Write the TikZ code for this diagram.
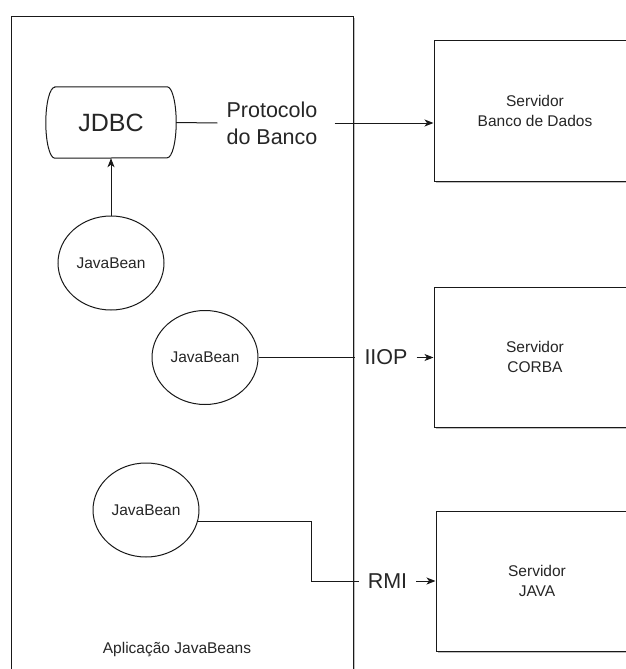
\documentclass[tikz,border=0pt]{standalone}
\usepackage{fontspec}
\setmainfont{Liberation Sans}
\usetikzlibrary{arrows.meta,shapes.geometric,shadows}

\begin{document}
\begin{tikzpicture}[x=1pt,y=-1pt,
  ln/.style={draw=black!90, line width=1pt},
  tip/.style={-{Stealth[length=9pt,width=7pt,inset=2.5pt]}},
  softshadow/.style={drop shadow={shadow xshift=1.5pt, shadow yshift=-1.5pt, fill=black, opacity=0.25}},
  bean/.style={ellipse, ln, fill=white, minimum width=106pt, minimum height=94pt,
    inner sep=0pt, font=\fontsize{15.5}{19}\selectfont, text=black!85},
  server/.style={rectangle, ln, fill=white, softshadow, minimum width=202pt,
    minimum height=140pt, align=center, font=\fontsize{15.5}{19.5}\selectfont, text=black!85},
  proto/.style={inner ysep=0pt, inner xsep=9pt, align=center,
    font=\fontsize{21.5}{27}\selectfont, text=black!85}
]
\useasboundingbox (0,0) rectangle (626,669);

% application container (runs off the bottom of the page)
\draw[ln, fill=white, softshadow] (11,17) rectangle (353,700);
\node[font=\fontsize{15.5}{19}\selectfont, text=black!85] (app) at (177,650) {Aplicação JavaBeans};

% JDBC driver box with bulging sides
\node[minimum width=130pt, minimum height=71pt, inner sep=0pt,
      font=\fontsize{25}{30}\selectfont, text=black!85] (jdbc) at (111,122.5) {JDBC};
\draw[ln] ([xshift=9pt]jdbc.north west) -- ([xshift=-9pt]jdbc.north east)
  arc[start angle=90, end angle=-90, x radius=9pt, y radius=35.5pt]
  -- ([xshift=9pt]jdbc.south west)
  arc[start angle=270, end angle=90, x radius=9pt, y radius=35.5pt] -- cycle;

% beans
\node[bean] (jb1) at (111,263) {JavaBean};
\node[bean] (jb2) at (205,357.5) {JavaBean};
\node[bean] (jb3) at (146,510) {JavaBean};

% servers
\node[server] (db) at (535,111) {Servidor\\Banco de Dados};
\node[server] (corba) at (535,357) {Servidor\\CORBA};
\node[server] (java) at (537,581) {Servidor\\JAVA};

% protocol labels
\node[proto] (proto) at (272,123) {Protocolo\\do Banco};
\node[proto] (iiop) at (386,357.5) {IIOP};
\node[proto] (rmi) at (387.5,581) {RMI};

% connectors
\draw[ln, tip] (jb1.north) -- (jdbc.south);
\draw[ln] (jdbc.east) -- (proto.west);
\draw[ln, tip] ([xshift=8pt]proto.east) -- (proto.east -| db.west);
\draw[ln] (jb2.east) -- (iiop.west);
\draw[ln, tip] (iiop.east) -- (iiop.east -| corba.west);
\coordinate (bend) at (311,521);
\draw[ln] (jb3.-12) -- (jb3.-12 -| bend) |- (rmi.west);
\draw[ln, tip] (rmi.east) -- (rmi.east -| java.west);
\end{tikzpicture}
\end{document}
